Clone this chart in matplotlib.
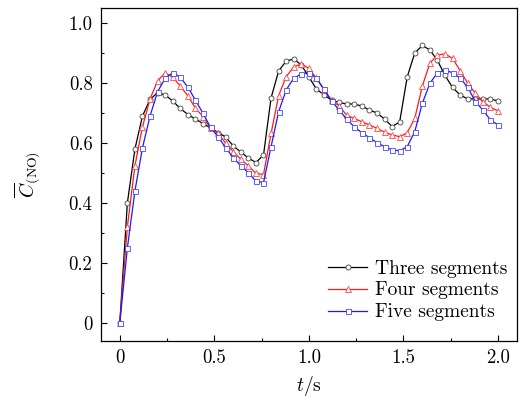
import numpy as np
import matplotlib
matplotlib.use("Agg")
import matplotlib.pyplot as plt

plt.rcParams['font.family'] = 'serif'
plt.rcParams['font.serif'] = ['cmr10', 'DejaVu Serif']
plt.rcParams['mathtext.fontset'] = 'cm'
plt.rcParams['axes.unicode_minus'] = False

# time grid (s), one sample every 0.04 s
t = np.linspace(0, 2.0, 51)

three = [0.0, 0.40, 0.58, 0.69, 0.745, 0.768, 0.76, 0.74, 0.715, 0.695,
         0.68, 0.665, 0.65, 0.635, 0.62, 0.59, 0.57, 0.55, 0.535, 0.56,
         0.75, 0.84, 0.873, 0.88, 0.86, 0.82, 0.78, 0.76, 0.743, 0.735,
         0.73, 0.73, 0.723, 0.71, 0.70, 0.68, 0.655, 0.67, 0.82, 0.90,
         0.925, 0.91, 0.875, 0.825, 0.785, 0.76, 0.747, 0.747, 0.747, 0.747,
         0.74]

four = [0.0, 0.32, 0.524, 0.654, 0.747, 0.807, 0.834, 0.819, 0.79, 0.757,
        0.716, 0.688, 0.649, 0.632, 0.599, 0.571, 0.546, 0.524, 0.499, 0.495,
        0.632, 0.758, 0.821, 0.854, 0.863, 0.849, 0.816, 0.777, 0.743, 0.723,
        0.693, 0.682, 0.671, 0.66, 0.649, 0.636, 0.627, 0.621, 0.634, 0.682,
        0.79, 0.866, 0.893, 0.897, 0.882, 0.841, 0.799, 0.766, 0.738, 0.719,
        0.707]

five = [0.0, 0.25, 0.44, 0.584, 0.69, 0.771, 0.816, 0.834, 0.819, 0.786,
        0.743, 0.699, 0.652, 0.621, 0.584, 0.551, 0.524, 0.501, 0.473, 0.468,
        0.588, 0.704, 0.777, 0.816, 0.83, 0.834, 0.816, 0.779, 0.74, 0.71,
        0.679, 0.654, 0.634, 0.618, 0.601, 0.588, 0.577, 0.574, 0.588, 0.638,
        0.732, 0.799, 0.834, 0.843, 0.834, 0.816, 0.786, 0.738, 0.71, 0.677,
        0.66]

xticks = [0, 0.5, 1.0, 1.5, 2.0]
xticklabels = ['0', '0.5', '1.0', '1.5', '2.0']
yticks = [0, 0.2, 0.4, 0.6, 0.8, 1.0]
yticklabels = ['0', '0.2', '0.4', '0.6', '0.8', '1.0']

fig = plt.figure(figsize=(5.2, 3.98), dpi=100)
ax = fig.add_axes([0.194, 0.143, 0.8, 0.837])

ax.plot(t, three, color='black', lw=0.9, marker='o', ms=3.6, mfc='white',
        mec='#444444', mew=0.6, label='Three segments')
ax.plot(t, four, color='#ff1a1a', lw=0.9, marker='^', ms=4.0, mfc='white',
        mec='#ff4545', mew=0.6, label='Four segments')
ax.plot(t, five, color='#1a1aff', lw=0.9, marker='s', ms=3.6, mfc='white',
        mec='#4545ff', mew=0.6, label='Five segments')

ax.set_xlim(-0.1, 2.1)
ax.set_ylim(-0.06, 1.05)
ax.set_xticks(xticks)
ax.set_xticklabels(xticklabels)
ax.set_yticks(yticks)
ax.set_yticklabels(yticklabels)
ax.set_xticks([0.25, 0.75, 1.25, 1.75], minor=True)
ax.set_yticks([0.1, 0.3, 0.5, 0.7, 0.9], minor=True)
ax.tick_params(which='both', direction='in', labelsize=13.5)
ax.tick_params(which='major', length=4, width=0.8, pad=6)
ax.tick_params(which='minor', length=2.5, width=0.8)
for s in ax.spines.values():
    s.set_linewidth(0.9)

ax.set_xlabel('$t$/s', fontsize=14, labelpad=5)
ax.set_ylabel(r'$\overline{C}_{(\mathrm{NO})}$', fontsize=14, labelpad=19)

ax.legend(loc='lower right', bbox_to_anchor=(1.0, 0.03), frameon=False,
          fontsize=14, handlelength=2.0, handletextpad=0.4,
          labelspacing=0.2, borderaxespad=0.1)

fig.savefig('out.png', dpi=100)
